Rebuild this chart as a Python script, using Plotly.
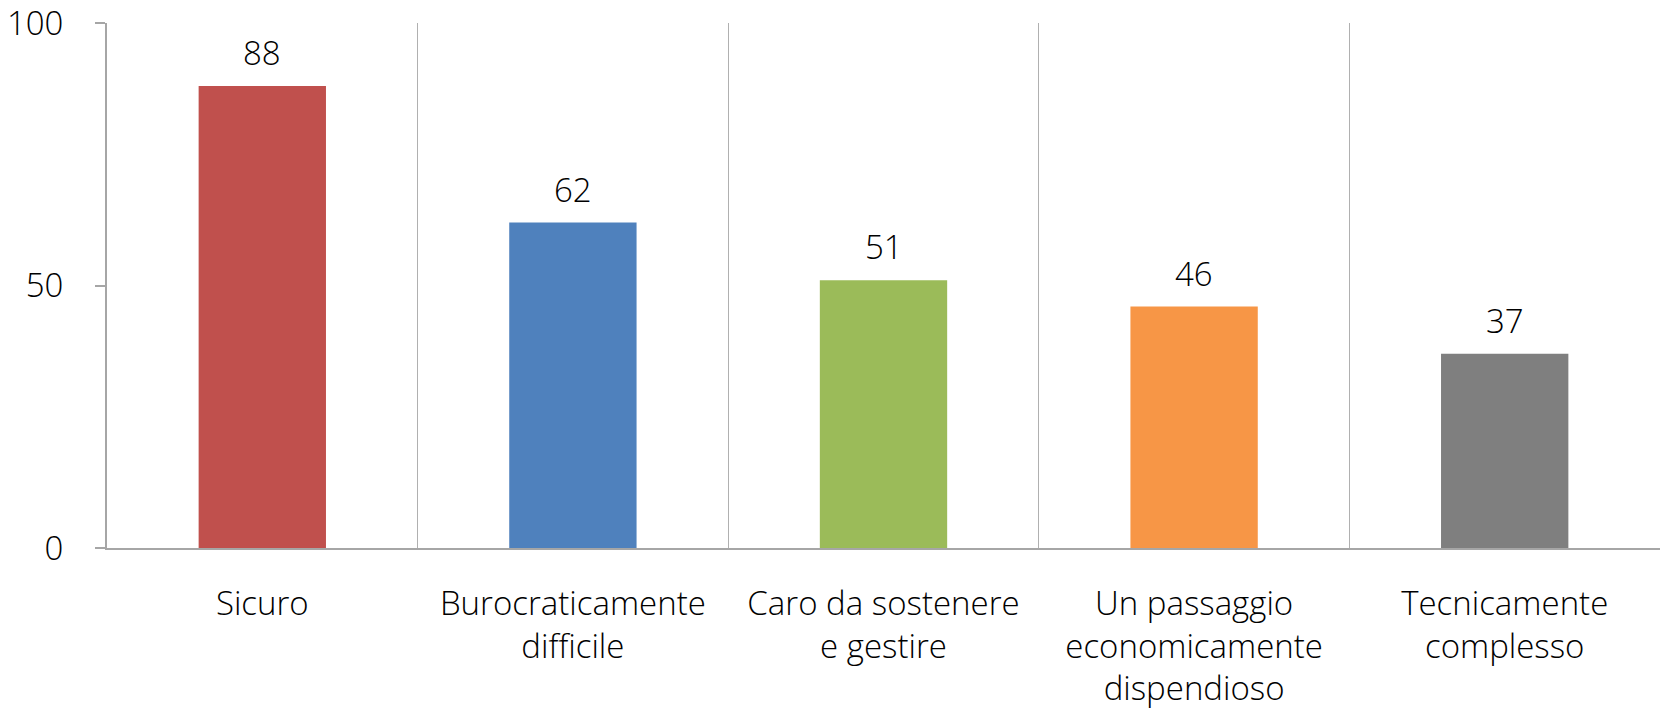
import plotly.graph_objects as go

categories = ["Sicuro", "Burocraticamente<br>difficile", "Caro da sostenere<br>e gestire",
              "Un passaggio<br>economicamente<br>dispendioso", "Tecnicamente<br>complesso"]
values = [88, 62, 51, 46, 37]
colors = ["#C0504D", "#4F81BD", "#9BBB59", "#F79646", "#7F7F7F"]
y_ticks = [0, 50, 100]

font_family = "Open Sans"
font_size = 33

fig = go.Figure()
fig.add_trace(go.Bar(
    x=categories,
    y=values,
    marker=dict(color=colors, line=dict(width=0)),
    hoverinfo="skip",
))

for cat, val in zip(categories, values):
    fig.add_annotation(
        x=cat, y=val, text=str(val), showarrow=False,
        yanchor="bottom", yshift=9,
        font=dict(family=font_family, size=font_size, color="#000000", weight=300),
    )

fig.update_layout(
    width=1663, height=714,
    margin=dict(l=107, r=3, t=23, b=166),
    paper_bgcolor="white", plot_bgcolor="white",
    bargap=0.59,
    showlegend=False,
    font=dict(family=font_family, size=font_size, color="#000000", weight=300),
)
fig.update_xaxes(
    automargin=False,
    tickson="boundaries",
    showgrid=True, gridcolor="#B0B0B0", gridwidth=1,
    ticks="", ticklabelstandoff=25, ticklabeloverflow="allow",
    showline=True, linecolor="#A6A6A6", linewidth=2,
)
fig.update_yaxes(
    automargin=False,
    range=[0, 100], tickvals=y_ticks,
    showgrid=False, zeroline=False,
    ticks="outside", ticklen=10, tickcolor="#A6A6A6", tickwidth=2,
    showline=True, linecolor="#A6A6A6", linewidth=2,
    ticklabelstandoff=25, ticklabeloverflow="allow",
)

# drop the default body margin so the figure sits at the page corner
fig.write_html("out.html", config={"displayModeBar": False},
               post_script="document.body.style.margin='0';")
